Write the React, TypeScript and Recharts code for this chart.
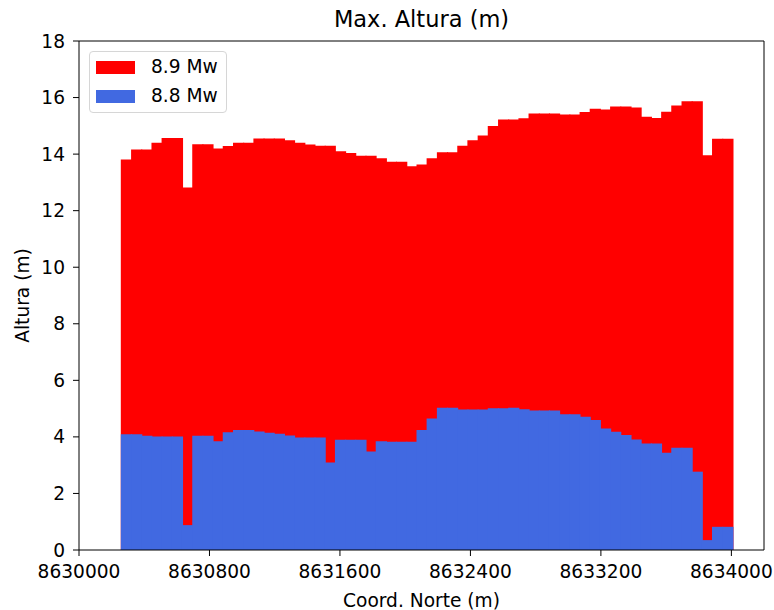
import { BarChart, Bar, XAxis, YAxis, ReferenceLine, Rectangle } from "recharts";

// Coord. Norte (m) of each bar
const coordNorte = [
  8630291, 8630354, 8630416, 8630479, 8630541, 8630604, 8630666, 8630729, 8630791, 8630854,
  8630916, 8630979, 8631041, 8631104, 8631166, 8631229, 8631291, 8631354, 8631416, 8631479,
  8631541, 8631604, 8631666, 8631729, 8631791, 8631854, 8631916, 8631979, 8632041, 8632104,
  8632166, 8632229, 8632291, 8632354, 8632416, 8632479, 8632541, 8632604, 8632666, 8632729,
  8632791, 8632854, 8632916, 8632979, 8633041, 8633104, 8633166, 8633229, 8633291, 8633354,
  8633416, 8633479, 8633541, 8633604, 8633666, 8633729, 8633791, 8633854, 8633916, 8633979,
];

// max. altura (m), 8.9 Mw
const altura89 = [
  13.81, 14.16, 14.16, 14.4, 14.57, 14.57, 12.82, 14.35, 14.35, 14.2,
  14.29, 14.4, 14.4, 14.55, 14.55, 14.55, 14.49, 14.4, 14.34, 14.3,
  14.3, 14.1, 14.04, 13.94, 13.94, 13.85, 13.73, 13.73, 13.57, 13.63,
  13.85, 14.07, 14.07, 14.3, 14.49, 14.66, 14.99, 15.22, 15.22, 15.27,
  15.44, 15.44, 15.44, 15.4, 15.4, 15.49, 15.6, 15.58, 15.68, 15.68,
  15.65, 15.32, 15.28, 15.5, 15.72, 15.87, 15.87, 13.96, 14.54, 14.54,
];

// max. altura (m), 8.8 Mw
const altura88 = [
  4.09, 4.09, 4.04, 4.01, 4.01, 4.01, 0.88, 4.04, 4.04, 3.85,
  4.16, 4.24, 4.24, 4.19, 4.15, 4.11, 4.05, 3.98, 3.98, 3.98,
  3.09, 3.9, 3.9, 3.9, 3.48, 3.85, 3.83, 3.83, 3.83, 4.24,
  4.65, 5.03, 5.03, 4.97, 4.97, 4.97, 5.01, 5.01, 5.03, 4.98,
  4.93, 4.93, 4.93, 4.8, 4.8, 4.71, 4.6, 4.3, 4.18, 4.07,
  3.91, 3.77, 3.77, 3.44, 3.62, 3.62, 2.77, 0.35, 0.82, 0.82,
];

const xTicks = [8630000, 8630800, 8631600, 8632400, 8633200, 8634000];
const yTicks = [0, 2, 4, 6, 8, 10, 12, 14, 16, 18];
const xDomain = [8630000, 8634200];
const yDomain = [0, 18];

const series = [
  { key: "r89", name: "8.9 Mw", color: "#ff0000" },
  { key: "r88", name: "8.8 Mw", color: "#4169e1" },
];

const data = coordNorte.map((x, i) => ({
  x,
  r89: altura89[i],
  r88: altura88[i],
}));

const font = "DejaVu Sans, sans-serif";
const W = 774;
const H = 610;
const plotLeft = 79;
const plotRight = 764;
const barPx = 10;

// widen each bar a touch so neighbouring bars touch without white seams
const TouchingBar = (props: any) => (
  <Rectangle {...props} x={props.x - 0.6} width={props.width + 1.2} />
);

const tickStyle = { fill: "#000", fontSize: 18.6, fontFamily: font };

const App = () => {
  return (
    <div style={{ position: "absolute", left: 0, top: 0, width: W, height: H, background: "#fff", fontFamily: font }}>
      <div
        style={{
          position: "absolute",
          left: plotLeft,
          width: plotRight - plotLeft,
          top: 6,
          textAlign: "center",
          fontSize: 22.5,
          color: "#000",
        }}
      >
        Max. Altura (m)
      </div>

      <BarChart
        width={W}
        height={H}
        data={data}
        margin={{ top: 41, right: W - plotRight, left: 0, bottom: 0 }}
        style={{ fontFamily: font }}
      >
        <XAxis
          xAxisId="main"
          dataKey="x"
          type="number"
          domain={xDomain}
          ticks={xTicks}
          height={60}
          tick={tickStyle}
          tickSize={6}
          tickMargin={9}
          stroke="#000"
          label={{ value: "Coord. Norte (m)", position: "insideBottom", offset: 3, fill: "#000", fontSize: 18.6 }}
        />
        <XAxis xAxisId="over" dataKey="x" type="number" domain={xDomain} hide />
        <YAxis
          type="number"
          domain={yDomain}
          ticks={yTicks}
          width={plotLeft}
          tick={tickStyle}
          tickSize={6}
          tickMargin={8}
          stroke="#000"
          label={{
            value: "Altura (m)",
            angle: -90,
            position: "insideLeft",
            offset: 22,
            fill: "#000",
            fontSize: 18.6,
            style: { textAnchor: "middle" },
          }}
        />
        <Bar
          xAxisId="main"
          dataKey="r89"
          name={series[0].name}
          fill={series[0].color}
          barSize={barPx}
          shape={TouchingBar}
          isAnimationActive={false}
        />
        <Bar
          xAxisId="over"
          dataKey="r88"
          name={series[1].name}
          fill={series[1].color}
          barSize={barPx}
          shape={TouchingBar}
          isAnimationActive={false}
        />
        <ReferenceLine xAxisId="main" y={yDomain[1]} stroke="#000" ifOverflow="extendDomain" />
        <ReferenceLine xAxisId="main" x={xDomain[1]} stroke="#000" ifOverflow="extendDomain" />
      </BarChart>

      <div
        style={{
          position: "absolute",
          left: 89,
          top: 51,
          width: 136,
          height: 60,
          border: "1px solid #d6d6d6",
          borderRadius: 4,
          background: "rgba(255,255,255,0.8)",
        }}
      >
        {series.map((s, i) => (
          <div key={s.key} style={{ position: "absolute", left: 6, top: 8 + i * 29, height: 14, display: "flex", alignItems: "center" }}>
            <div style={{ width: 39, height: 13, background: s.color }} />
            <span style={{ marginLeft: 16, fontSize: 18.6, color: "#000", whiteSpace: "nowrap", lineHeight: "14px" }}>{s.name}</span>
          </div>
        ))}
      </div>
    </div>
  );
};

export default App;
